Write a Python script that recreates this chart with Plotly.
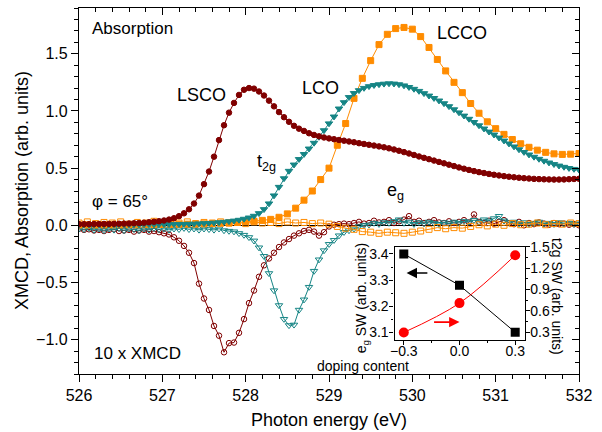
import plotly.graph_objects as go

# ---------------- data ----------------
energy_fine = [526.00, 526.06, 526.12, 526.18, 526.24, 526.30, 526.36, 526.42, 526.48, 526.54,
               526.60, 526.66, 526.72, 526.78, 526.84, 526.90, 526.96, 527.02, 527.08, 527.14,
               527.20, 527.26, 527.32, 527.38, 527.44, 527.50, 527.56, 527.62, 527.68, 527.74,
               527.80, 527.86, 527.92, 527.98, 528.04, 528.10, 528.16, 528.22, 528.28, 528.34,
               528.40, 528.46, 528.52, 528.58, 528.64, 528.70, 528.76, 528.82, 528.88, 528.94,
               529.00, 529.06, 529.12, 529.18, 529.24, 529.30, 529.36, 529.42, 529.48, 529.54,
               529.60, 529.66, 529.72, 529.78, 529.84, 529.90, 529.96, 530.02, 530.08, 530.14,
               530.20, 530.26, 530.32, 530.38, 530.44, 530.50, 530.56, 530.62, 530.68, 530.74,
               530.80, 530.86, 530.92, 530.98, 531.04, 531.10, 531.16, 531.22, 531.28, 531.34,
               531.40, 531.46, 531.52, 531.58, 531.64, 531.70, 531.76, 531.82, 531.88, 531.94,
               532.00]

energy_coarse = [526.0, 526.1, 526.2, 526.3, 526.4, 526.5, 526.6, 526.7, 526.8, 526.9,
                 527.0, 527.1, 527.2, 527.3, 527.4, 527.5, 527.6, 527.7, 527.8, 527.9,
                 528.0, 528.1, 528.2, 528.3, 528.4, 528.5, 528.6, 528.7, 528.8, 528.9,
                 529.0, 529.1, 529.2, 529.3, 529.4, 529.5, 529.6, 529.7, 529.8, 529.9,
                 530.0, 530.1, 530.2, 530.3, 530.4, 530.5, 530.6, 530.7, 530.8, 530.9,
                 531.0, 531.1, 531.2, 531.3, 531.4, 531.5, 531.6, 531.7, 531.8, 531.9,
                 532.0]

abs_lsco = [0.010, 0.010, 0.010, 0.011, 0.011, 0.012, 0.012, 0.013, 0.014, 0.015,
            0.016, 0.018, 0.020, 0.023, 0.027, 0.031, 0.036, 0.042, 0.050, 0.062,
            0.080, 0.105, 0.140, 0.190, 0.260, 0.360, 0.470, 0.600, 0.745, 0.875,
            0.985, 1.070, 1.140, 1.185, 1.200, 1.195, 1.170, 1.135, 1.090, 1.040,
            0.990, 0.945, 0.905, 0.870, 0.845, 0.825, 0.805, 0.790, 0.778, 0.768,
            0.760, 0.753, 0.746, 0.740, 0.733, 0.726, 0.718, 0.711, 0.704, 0.697,
            0.690, 0.682, 0.673, 0.663, 0.652, 0.640, 0.628, 0.615, 0.602, 0.590,
            0.578, 0.566, 0.554, 0.542, 0.530, 0.518, 0.506, 0.495, 0.484, 0.474,
            0.465, 0.457, 0.449, 0.442, 0.436, 0.430, 0.425, 0.420, 0.416, 0.412,
            0.409, 0.406, 0.404, 0.402, 0.401, 0.400, 0.400, 0.401, 0.403, 0.405,
            0.407]

abs_lco = [0.005, 0.005, 0.005, 0.005, 0.005, 0.005, 0.006, 0.006, 0.006, 0.006,
           0.006, 0.006, 0.006, 0.007, 0.007, 0.007, 0.007, 0.008, 0.008, 0.009,
           0.010, 0.011, 0.012, 0.013, 0.015, 0.017, 0.019, 0.022, 0.025, 0.029,
           0.034, 0.040, 0.047, 0.056, 0.067, 0.082, 0.105, 0.140, 0.190, 0.260,
           0.335, 0.410, 0.475, 0.530, 0.578, 0.622, 0.670, 0.720, 0.772, 0.830,
           0.890, 0.950, 1.020, 1.075, 1.120, 1.155, 1.180, 1.200, 1.215, 1.225,
           1.232, 1.237, 1.240, 1.238, 1.232, 1.222, 1.208, 1.192, 1.174, 1.154,
           1.133, 1.112, 1.090, 1.066, 1.040, 1.013, 0.986, 0.958, 0.930, 0.902,
           0.873, 0.845, 0.818, 0.792, 0.766, 0.740, 0.714, 0.688, 0.663, 0.640,
           0.618, 0.598, 0.580, 0.563, 0.548, 0.534, 0.521, 0.510, 0.500, 0.492,
           0.485]

abs_lcco = [0.003, 0.003, 0.003, 0.004, 0.004, 0.004, 0.005, 0.005, 0.006, 0.006,
            0.007, 0.008, 0.009, 0.010, 0.011, 0.013, 0.015, 0.018, 0.021, 0.025,
            0.030, 0.036, 0.043, 0.052, 0.070, 0.100, 0.150, 0.220, 0.300, 0.400,
            0.500, 0.700, 0.890, 1.110, 1.285, 1.440, 1.580, 1.670, 1.720, 1.730,
            1.715, 1.650, 1.555, 1.450, 1.350, 1.250, 1.160, 1.065, 0.980, 0.905,
            0.845, 0.795, 0.750, 0.713, 0.682, 0.657, 0.638, 0.625, 0.620, 0.622,
            0.628]

xmcd_lsco = [-0.030, -0.040, -0.035, -0.045, -0.040, -0.050, -0.040, -0.035, -0.050, -0.045,
             -0.040, -0.055, -0.045, -0.040, -0.055, -0.050, -0.060, -0.070, -0.080, -0.105,
             -0.135, -0.180, -0.240, -0.330, -0.510, -0.640, -0.740, -0.880, -0.965, -1.110,
             -1.030, -1.025, -0.940, -0.820, -0.680, -0.570, -0.450, -0.350, -0.290, -0.240,
             -0.190, -0.150, -0.120, -0.090, -0.070, -0.050, -0.040, -0.055, -0.090, -0.060,
             -0.010, 0.005, 0.010, 0.015, 0.010, 0.020, 0.030, 0.015, 0.020, 0.040,
             0.025, 0.030, 0.045, 0.020, 0.035, 0.050, 0.080, 0.030, 0.040, 0.020,
             0.030, 0.045, 0.025, 0.020, 0.035, 0.020, 0.030, 0.045, 0.025, 0.095,
             0.030, 0.020, 0.040, 0.015, 0.030, 0.045, 0.020, 0.010, 0.030, 0.000,
             0.020, 0.010, 0.025, 0.015, 0.005, 0.020, 0.010, 0.015, 0.005, 0.010,
             0.000]

xmcd_lco = [-0.030, -0.035, -0.025, -0.040, -0.030, -0.045, -0.030, -0.040, -0.025, -0.045,
            -0.030, -0.035, -0.045, -0.030, -0.040, -0.025, -0.035, -0.030, -0.040, -0.030,
            -0.035, -0.025, -0.035, -0.030, -0.040, -0.030, -0.035, -0.040, -0.030, -0.045,
            -0.050, -0.055, -0.070, -0.085, -0.105, -0.135, -0.195, -0.270, -0.420, -0.570,
            -0.700, -0.820, -0.875, -0.870, -0.740, -0.650, -0.540, -0.400, -0.300, -0.220,
            -0.165, -0.130, -0.090, -0.060, -0.045, -0.030, -0.010, 0.000, 0.005, 0.020,
            0.010, 0.025, 0.020, 0.035, 0.050, 0.020, 0.030, 0.010, 0.025, 0.015,
            0.030, 0.020, 0.010, 0.025, 0.015, 0.030, 0.020, 0.035, 0.030, 0.045,
            0.030, 0.050, 0.040, 0.060, 0.080, 0.040, 0.025, 0.030, 0.015, 0.025,
            0.010, 0.020, 0.030, 0.015, 0.020, 0.010, 0.025, 0.015, 0.020, 0.010,
            0.015]

xmcd_lcco = [0.020, 0.030, 0.015, 0.025, 0.020, 0.030, 0.010, 0.025, 0.020, 0.035,
             0.015, 0.025, 0.020, 0.030, 0.015, 0.025, 0.020, 0.030, 0.020, 0.025,
             0.015, 0.030, 0.020, 0.025, 0.015, 0.030, 0.020, 0.025, 0.015, 0.020,
             0.010, -0.010, -0.025, -0.035, -0.055, -0.060, -0.070, -0.060, -0.065, -0.070,
             -0.060, -0.050, -0.035, -0.020, -0.030, -0.020, -0.025, -0.010, 0.005, -0.005,
             0.010, 0.000, 0.015, 0.005, 0.010, 0.020, 0.005, 0.015, 0.010, 0.020,
             0.015]

# inset data
doping = [-0.3, 0.0, 0.3]
eg_sw = [3.40, 3.28, 3.10]
t2g_sw = [0.30, 0.71, 1.38]

C_LSCO = "#800000"
C_LCO = "#168585"
C_LCCO = "#ff8c00"
FONT = "Liberation Sans, Arial, sans-serif"

fig = go.Figure()

def add(x, y, color, symbol, size, name):
    fig.add_trace(go.Scatter(x=x, y=y, mode="lines+markers", name=name,
                             line=dict(color=color, width=1),
                             marker=dict(symbol=symbol, size=size, color=color,
                                         line=dict(color=color, width=1)),
                             showlegend=False, xaxis="x", yaxis="y"))

add(energy_fine, xmcd_lsco, C_LSCO, "circle-open", 5.5, "LSCO XMCD")
add(energy_fine, xmcd_lco, C_LCO, "triangle-down-open", 6.5, "LCO XMCD")
add(energy_coarse, xmcd_lcco, C_LCCO, "square-open", 6, "LCCO XMCD")
add(energy_coarse, abs_lcco, C_LCCO, "square", 6, "LCCO")
add(energy_fine, abs_lco, C_LCO, "triangle-down", 6.5, "LCO")
add(energy_fine, abs_lsco, C_LSCO, "circle", 5.5, "LSCO")

# dummy traces for mirrored (inside-tick) axes
fig.add_trace(go.Scatter(x=[None], y=[None], xaxis="x3", yaxis="y", showlegend=False, hoverinfo="skip"))
fig.add_trace(go.Scatter(x=[None], y=[None], xaxis="x", yaxis="y4", showlegend=False, hoverinfo="skip"))

# inset
fig.add_trace(go.Scatter(x=doping, y=eg_sw, mode="lines+markers", xaxis="x2", yaxis="y2",
                         line=dict(color="black", width=1),
                         marker=dict(symbol="square", size=9, color="black"), showlegend=False))
fig.add_trace(go.Scatter(x=doping, y=t2g_sw, mode="lines+markers", xaxis="x2", yaxis="y3",
                         line=dict(color="red", width=1, shape="spline"),
                         marker=dict(symbol="circle", size=10, color="red"), showlegend=False))

XR = [526, 532]
YR = [-1.3, 1.9]
common = dict(showgrid=False, linecolor="black", linewidth=1.3,
              tickcolor="black", tickwidth=1, tickfont=dict(family=FONT, size=16, color="black"))
inset_font = dict(family=FONT, size=14, color="black")

fig.update_layout(
    width=602, height=432, autosize=False,
    margin=dict(l=79, r=23, t=8, b=58, autoexpand=False),
    paper_bgcolor="white", plot_bgcolor="white",
    font=dict(family=FONT, color="black"),
    xaxis=dict(range=XR, domain=[0, 1], anchor="y", showline=True, ticks="outside", ticklen=7,
               dtick=1, tick0=526, zeroline=False,
               minor=dict(dtick=0.2, ticks="outside", ticklen=4, tickcolor="black"), **common),
    yaxis=dict(range=YR, domain=[0, 1], anchor="x", showline=True, ticks="outside", ticklen=7,
               dtick=0.5, tick0=0, tickformat=".1f",
               minor=dict(dtick=0.1, ticks="outside", ticklen=4, tickcolor="black"),
               zeroline=True, zerolinecolor="black", zerolinewidth=1.2, **common),
    xaxis3=dict(range=XR, overlaying="x", side="top", anchor="y", showline=True, ticks="inside",
                ticklen=7, dtick=1, tick0=526, showticklabels=False, zeroline=False,
                minor=dict(dtick=0.2, ticks="inside", ticklen=4, tickcolor="black"), **common),
    yaxis4=dict(range=YR, overlaying="y", side="right", anchor="x", showline=True, ticks="inside",
                ticklen=7, dtick=0.5, tick0=0, showticklabels=False, zeroline=False,
                minor=dict(dtick=0.1, ticks="inside", ticklen=4, tickcolor="black"), **common),
    xaxis2=dict(domain=[0.631, 0.891], anchor="y2", range=[-0.35, 0.35], showline=True, mirror=True,
                linecolor="black", linewidth=1.2, ticks="outside", ticklen=4, tickcolor="black",
                dtick=0.3, tick0=0, tickformat=".1f", showgrid=False, zeroline=False,
                ticklabelstandoff=-5,
                minor=dict(dtick=0.15, ticks="outside", ticklen=2, tickcolor="black"),
                tickfont=inset_font),
    yaxis2=dict(domain=[0.094, 0.348], anchor="x2", range=[3.072, 3.428], showline=True, mirror=True,
                linecolor="black", linewidth=1.2, ticks="outside", ticklen=4, tickcolor="black",
                dtick=0.1, tick0=3.1, tickformat=".1f", showgrid=False, zeroline=False,
                ticklabelstandoff=-2,
                minor=dict(dtick=0.05, ticks="outside", ticklen=2, tickcolor="black"),
                tickfont=inset_font),
    yaxis3=dict(overlaying="y2", side="right", anchor="x2", range=[0.2, 1.5], showline=False,
                ticks="outside", ticklen=4, tickcolor="black", dtick=0.3, tick0=0.3, tickformat=".1f",
                showgrid=False, zeroline=False, ticklabelstandoff=-2,
                minor=dict(dtick=0.15, ticks="outside", ticklen=2, tickcolor="black"),
                tickfont=inset_font),
)

ann = [
    dict(text="Absorption", x=526.13, y=1.72, xanchor="left", size=17),
    dict(text="LSCO", x=527.47, y=1.14, xanchor="center", size=18),
    dict(text="LCO", x=528.90, y=1.20, xanchor="center", size=18),
    dict(text="LCCO", x=530.60, y=1.68, xanchor="center", size=18),
    dict(text="t<sub>2g</sub>", x=528.11, y=0.55, xanchor="left", size=18),
    dict(text="e<sub>g</sub>", x=529.67, y=0.30, xanchor="left", size=18),
    dict(text="φ = 65°", x=526.13, y=0.21, xanchor="left", size=17),
    dict(text="10 x XMCD", x=526.16, y=-1.12, xanchor="left", size=17),
]
for a in ann:
    fig.add_annotation(text=a["text"], x=a["x"], y=a["y"], xref="x", yref="y",
                       xanchor=a["xanchor"], yanchor="middle", showarrow=False,
                       font=dict(family=FONT, size=a["size"], color="black"))

# axis titles (placed as paper annotations)
fig.add_annotation(text="Photon energy (eV)", x=0.5, y=-0.126, xref="paper", yref="paper",
                   showarrow=False, xanchor="center", yanchor="middle",
                   font=dict(family=FONT, size=18, color="black"))
fig.add_annotation(text="XMCD, Absorption (arb. units)", x=-0.114, y=0.5, xref="paper", yref="paper",
                   textangle=-90, showarrow=False, xanchor="center", yanchor="middle",
                   font=dict(family=FONT, size=18, color="black"))
# inset titles
fig.add_annotation(text="doping content", x=0.568, y=0.022, xref="paper", yref="paper",
                   showarrow=False, xanchor="center", yanchor="middle", font=inset_font)
fig.add_annotation(text="e<sub>g</sub> SW (arb. units)", x=0.565, y=0.208, xref="paper", yref="paper",
                   textangle=-90, showarrow=False, xanchor="center", yanchor="middle", font=inset_font)
fig.add_annotation(text="t2g SW (arb. units)", x=0.956, y=0.213, xref="paper", yref="paper",
                   textangle=90, showarrow=False, xanchor="center", yanchor="middle", font=inset_font)

# inset arrows
fig.add_annotation(x=-0.285, y=3.327, ax=-0.165, ay=3.327, xref="x2", yref="y2", axref="x2", ayref="y2",
                   showarrow=True, arrowhead=2, arrowsize=1.3, arrowwidth=1.6, arrowcolor="black", text="")
fig.add_annotation(x=0.0, y=3.139, ax=-0.145, ay=3.139, xref="x2", yref="y2", axref="x2", ayref="y2",
                   showarrow=True, arrowhead=2, arrowsize=1.3, arrowwidth=1.6, arrowcolor="red", text="")

fig.write_html("out.html", config={"responsive": False, "displayModeBar": False},
               post_script="document.body.style.margin='0px';document.body.style.overflow='hidden';")
